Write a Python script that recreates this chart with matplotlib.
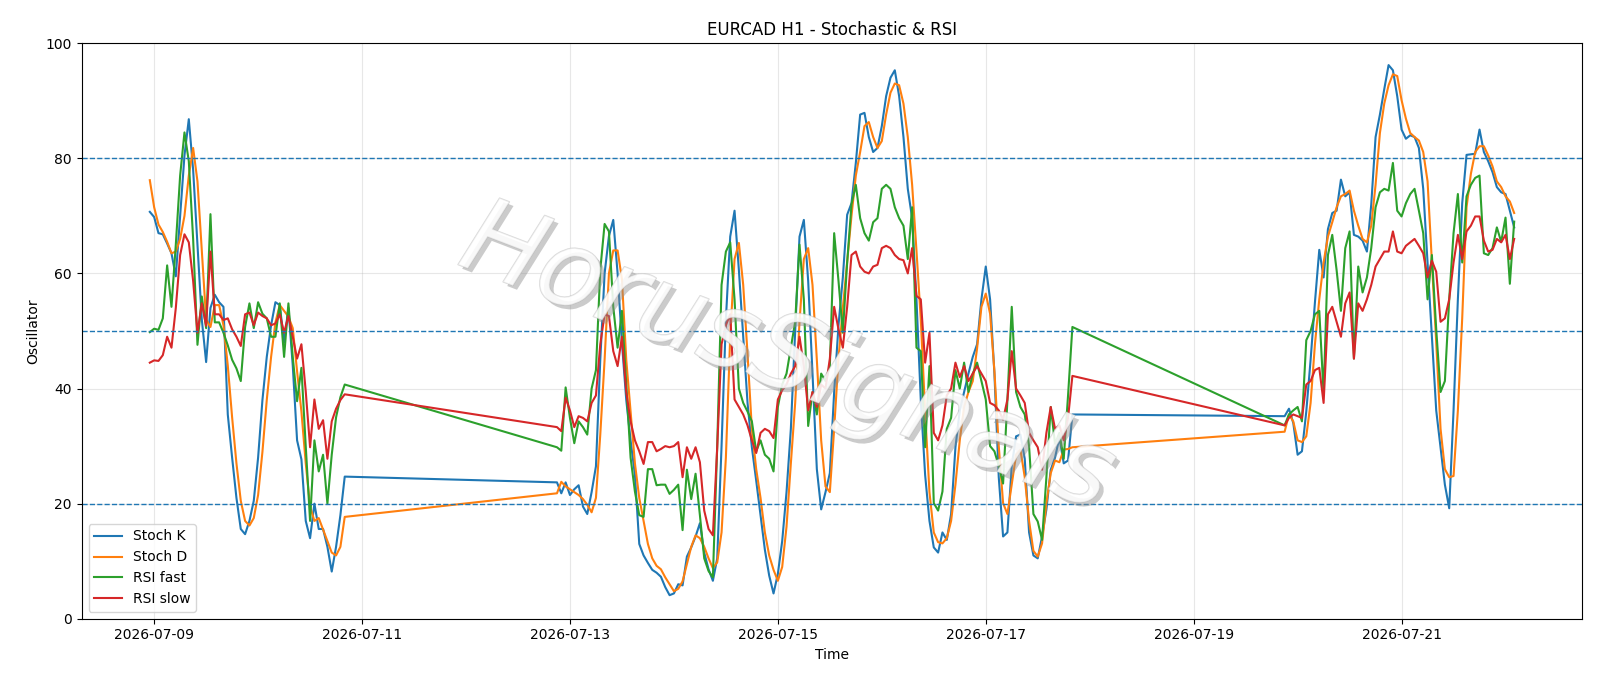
import numpy as np
import pandas as pd
import matplotlib
matplotlib.use("Agg")
import matplotlib.pyplot as plt
import matplotlib.dates as mdates
import matplotlib.patheffects as pe

# three trading blocks (weekend gaps in between), hourly bars
seg_starts = ["2026-07-08 23:00", "2026-07-12 21:00", "2026-07-19 21:00"]

# --- block 1 ---
stoch_k_1 = [70.7, 69.8, 67.0, 66.8, 65.2, 63.5, 59.5, 70.0, 80.5, 86.8,
             78.0, 65.0, 52.0, 44.6, 54.0, 56.3, 55.0, 54.2, 35.5, 28.0,
             21.0, 15.6, 14.7, 17.0, 20.5, 28.0, 38.0, 45.5, 51.0, 55.0,
             54.5, 48.0, 54.0, 44.0, 31.0, 27.7, 17.0, 14.0, 20.0, 15.6,
             15.6, 12.5, 8.2, 12.5, 18.0, 24.7]
stoch_d_1 = [76.2, 71.5, 68.5, 67.2, 65.5, 63.5, 63.8, 66.0, 70.0, 77.0,
             81.8, 76.0, 64.0, 52.0, 50.7, 54.5, 54.5, 51.0, 44.0, 35.0,
             27.0, 20.5, 17.0, 16.2, 17.5, 21.5, 29.0, 38.0, 45.5, 51.5,
             54.5, 53.5, 52.5, 50.5, 43.0, 36.0, 27.0, 19.5, 17.0, 17.5,
             15.5, 13.5, 11.5, 11.0, 12.5, 17.7]
rsi_fast_1 = [49.8, 50.4, 50.2, 52.2, 61.4, 54.2, 65.0, 77.0, 84.5, 79.5,
              66.0, 47.6, 56.0, 50.5, 70.3, 51.5, 51.5, 49.7, 47.5, 45.0,
              43.5, 41.3, 50.7, 54.8, 50.5, 55.0, 53.0, 52.2, 49.0, 49.0,
              54.8, 45.5, 54.8, 45.5, 37.8, 43.6, 30.0, 17.0, 31.0, 25.6,
              28.5, 20.0, 28.5, 35.0, 38.5, 40.7]
rsi_slow_1 = [44.5, 44.9, 44.8, 45.8, 49.0, 47.1, 54.0, 63.2, 66.8, 65.4,
              58.7, 49.7, 54.8, 50.9, 63.8, 52.9, 52.9, 51.9, 52.2, 50.3,
              49.0, 47.4, 52.9, 53.2, 51.0, 53.2, 52.6, 52.2, 51.0, 51.3,
              52.9, 49.7, 52.6, 49.0, 45.2, 47.7, 39.5, 29.8, 38.1, 33.0,
              34.5, 27.8, 34.3, 36.5, 38.0, 39.0]

# --- block 2 ---
stoch_k_2 = [23.7, 21.8, 23.7, 21.5, 22.5, 23.2, 19.5, 18.2, 22.0, 26.5,
             45.0, 60.0, 66.5, 69.3, 60.0, 48.0, 38.0, 31.0, 25.0, 13.0,
             11.0, 9.7, 8.5, 8.0, 7.3, 5.5, 4.1, 4.4, 6.0, 5.8,
             10.8, 12.4, 14.3, 16.6, 11.5, 8.6, 6.6, 10.5, 30.0, 52.0,
             66.4, 70.9, 60.6, 49.0, 37.5, 29.8, 24.0, 18.0, 12.0, 7.5,
             4.4, 7.8, 13.5, 22.0, 33.0, 50.0, 66.4, 69.3, 58.7, 42.6,
             26.0, 19.0, 22.0, 25.3, 39.4, 51.0, 59.3, 70.2, 72.2, 79.2,
             87.6, 87.9, 83.7, 81.1, 81.8, 85.6, 90.8, 94.0, 95.3, 90.8,
             83.7, 74.7, 69.6, 55.5, 38.0, 25.0, 17.0, 12.4, 11.5, 15.0,
             13.7, 18.2, 29.8, 36.2, 39.4, 42.6, 45.5, 47.7, 55.5, 61.2,
             55.5, 42.6, 24.6, 14.3, 15.0, 26.6, 31.7, 32.0, 27.8, 15.0,
             11.0, 10.5, 14.3, 19.0, 25.9, 28.0, 31.5, 27.0, 27.5, 35.5]
stoch_d_2 = [21.8, 23.8, 23.0, 22.5, 22.0, 21.5, 20.8, 19.8, 18.5, 21.0,
             32.0, 45.0, 60.0, 64.0, 64.0, 59.0, 45.0, 36.0, 27.0, 21.0,
             17.0, 13.0, 10.5, 9.2, 8.6, 7.2, 6.0, 4.8, 5.2, 6.5,
             9.5, 12.5, 14.5, 14.0, 12.5, 10.5, 8.8, 9.8, 15.0, 28.0,
             49.0, 62.5, 65.3, 58.0, 46.0, 33.0, 26.0, 21.0, 15.0, 11.0,
             8.5, 6.6, 9.0, 16.0, 27.0, 37.5, 51.6, 62.5, 64.4, 58.0,
             45.0, 31.0, 23.0, 22.0, 33.0, 45.2, 54.0, 62.0, 70.0, 77.0,
             81.1, 85.6, 86.3, 83.7, 81.8, 83.0, 87.6, 91.4, 93.0, 92.7,
             89.5, 83.7, 75.4, 64.0, 52.0, 36.0, 22.0, 15.0, 13.3, 13.1,
             14.0, 17.0, 23.3, 31.0, 36.8, 39.4, 41.3, 47.0, 54.2, 56.5,
             53.0, 43.0, 30.0, 20.1, 18.2, 23.3, 28.5, 29.4, 24.6, 17.0,
             11.8, 10.8, 13.1, 20.1, 25.3, 27.5, 27.2, 29.4, 29.5, 29.8]
rsi_fast_2 = [29.8, 29.2, 40.2, 34.9, 30.5, 34.3, 33.3, 32.0, 40.0, 43.2,
              60.6, 68.6, 67.3, 54.2, 47.1, 53.5, 40.7, 28.0, 22.1, 18.0,
              17.7, 26.0, 26.0, 23.2, 23.3, 23.3, 21.7, 22.4, 23.3, 15.4,
              25.9, 20.8, 25.2, 18.0, 10.5, 8.3, 7.2, 30.0, 58.0, 63.8,
              65.4, 55.5, 40.0, 37.5, 36.0, 34.3, 29.1, 31.0, 28.5, 27.8,
              25.6, 36.8, 40.7, 42.6, 47.1, 51.6, 65.0, 55.5, 33.5, 39.4,
              35.5, 42.6, 41.3, 43.9, 67.0, 58.7, 49.7, 61.9, 72.0, 75.4,
              69.6, 67.0, 65.7, 68.9, 69.6, 74.7, 75.4, 74.7, 71.5, 69.6,
              68.3, 62.5, 71.5, 47.1, 46.5, 29.8, 43.9, 20.1, 18.8, 22.1,
              33.0, 34.9, 43.2, 40.0, 44.5, 39.4, 42.6, 44.5, 41.3, 38.1,
              30.0, 29.1, 26.6, 23.5, 38.0, 54.2, 39.4, 36.8, 35.5, 30.0,
              18.2, 16.9, 13.7, 24.6, 36.8, 30.4, 32.3, 27.8, 38.8, 50.7]
rsi_slow_2 = [33.3, 32.6, 38.4, 36.2, 33.3, 35.2, 34.9, 34.3, 37.5, 38.8,
              47.7, 52.9, 52.6, 46.5, 43.9, 49.0, 39.4, 34.3, 31.0, 29.1,
              26.9, 30.7, 30.7, 29.1, 29.5, 30.0, 29.8, 30.0, 30.7, 24.6,
              29.8, 27.8, 29.8, 27.2, 18.8, 15.6, 14.5, 29.8, 47.7, 51.0,
              52.9, 38.1, 36.8, 35.5, 33.6, 31.0, 28.8, 32.3, 33.0, 32.6,
              31.4, 38.1, 39.7, 40.7, 42.6, 43.9, 49.0, 43.9, 36.2, 39.4,
              36.8, 40.7, 40.0, 45.2, 54.2, 50.3, 47.1, 54.2, 63.2, 63.8,
              61.2, 60.3, 60.0, 61.2, 61.5, 64.4, 64.8, 64.4, 63.2, 62.5,
              62.3, 60.0, 64.4, 56.1, 55.5, 44.5, 49.7, 32.3, 31.0, 33.6,
              38.8, 40.0, 44.5, 42.0, 43.9, 41.3, 42.6, 43.9, 42.6, 41.3,
              37.5, 37.1, 36.2, 34.6, 38.1, 46.5, 40.0, 38.8, 37.5, 32.3,
              31.0, 29.8, 25.9, 32.3, 36.8, 33.0, 33.6, 31.0, 34.9, 42.2]

# --- block 3 ---
stoch_k_3 = [35.2, 36.5, 34.0, 28.5, 29.1, 36.0, 45.0, 55.0, 64.1, 59.3,
             67.7, 70.5, 70.9, 76.3, 73.4, 74.1, 66.7, 66.4, 65.7, 63.8,
             72.0, 83.7, 87.6, 92.0, 96.2, 95.3, 90.8, 85.0, 83.4, 84.0,
             83.7, 81.8, 74.7, 61.9, 49.0, 36.2, 29.8, 23.3, 19.2, 36.2,
             55.5, 72.2, 80.6, 80.7, 80.8, 85.0, 81.1, 79.5, 77.6, 75.0,
             74.1, 73.8, 70.9, 68.0]
stoch_d_3 = [32.5, 35.5, 34.3, 31.0, 30.7, 31.7, 37.5, 47.7, 55.5, 61.9,
             66.4, 68.9, 71.5, 73.4, 73.8, 74.4, 70.9, 68.3, 66.0, 65.4,
             68.3, 75.4, 84.4, 89.5, 92.7, 94.6, 94.3, 90.1, 86.9, 84.4,
             83.7, 83.1, 81.1, 76.0, 62.0, 48.0, 33.0, 26.0, 24.6, 24.8,
             36.2, 52.2, 71.5, 77.3, 81.1, 82.1, 82.1, 80.5, 78.6, 76.0,
             75.0, 73.4, 72.5, 70.5]
rsi_fast_3 = [33.6, 35.5, 36.2, 36.8, 34.3, 48.4, 50.0, 52.9, 53.5, 39.1,
              63.2, 66.7, 60.6, 53.5, 64.4, 67.3, 45.2, 61.2, 56.7, 59.3,
              64.4, 71.5, 74.1, 74.7, 74.4, 79.2, 70.9, 69.9, 72.2, 73.8,
              74.7, 70.9, 67.0, 55.5, 63.2, 50.3, 39.4, 41.3, 55.5, 67.0,
              73.8, 61.9, 73.4, 75.4, 76.6, 77.0, 63.5, 63.2, 64.4, 68.0,
              65.5, 69.7, 58.2, 69.0]
rsi_slow_3 = [33.6, 34.9, 35.5, 35.2, 34.9, 40.7, 41.3, 43.2, 43.6, 37.5,
              52.9, 54.2, 51.6, 49.0, 54.8, 56.7, 45.2, 54.8, 53.5, 55.5,
              58.0, 61.2, 62.5, 63.8, 63.8, 67.3, 63.8, 63.5, 64.8, 65.4,
              66.0, 64.8, 63.5, 59.3, 62.2, 60.3, 51.6, 52.2, 55.5, 61.9,
              66.7, 62.5, 67.3, 68.3, 69.9, 69.9, 65.7, 63.8, 64.1, 66.0,
              65.4, 66.7, 62.5, 66.0]

levels = [80, 50, 20]

k = stoch_k_1 + stoch_k_2 + stoch_k_3
d = stoch_d_1 + stoch_d_2 + stoch_d_3
rf = rsi_fast_1 + rsi_fast_2 + rsi_fast_3
rs = rsi_slow_1 + rsi_slow_2 + rsi_slow_3

lens = [len(stoch_k_1), len(stoch_k_2), len(stoch_k_3)]
t = pd.DatetimeIndex([])
for s, n in zip(seg_starts, lens):
    t = t.append(pd.date_range(s, periods=n, freq="h"))

fig, ax = plt.subplots(figsize=(16, 6.86), dpi=100)
fig.subplots_adjust(left=0.051, right=0.989, top=0.937, bottom=0.098)

ax.plot(t, k, label="Stoch K", lw=1.5)
ax.plot(t, d, label="Stoch D", lw=1.5)
ax.plot(t, rf, label="RSI fast", lw=1.5)
ax.plot(t, rs, label="RSI slow", lw=1.5)

for lv in levels:
    ax.axhline(lv, ls="--", lw=1, color="C0")

ax.set_ylim(0, 100)
ax.grid(True, alpha=0.3)
ax.xaxis.set_major_locator(mdates.DayLocator(bymonthday=range(1, 32, 2)))
ax.xaxis.set_major_formatter(mdates.DateFormatter("%Y-%m-%d"))
ax.set_title("EURCAD H1 - Stochastic & RSI")
ax.set_xlabel("Time")
ax.set_ylabel("Oscillator")
ax.legend(loc="lower left")

# watermark
ax.text(0.47, 0.45, "HorusSignals", transform=ax.transAxes, fontsize=76,
        style="italic", color="white", alpha=0.5, rotation=-21,
        ha="center", va="center", zorder=5,
        path_effects=[pe.withSimplePatchShadow(offset=(3, -3), shadow_rgbFace="#8c8c8c", alpha=0.45),
                      pe.Stroke(linewidth=1.0, foreground="#b4b4b4"), pe.Normal()])

fig.savefig("out.png")
